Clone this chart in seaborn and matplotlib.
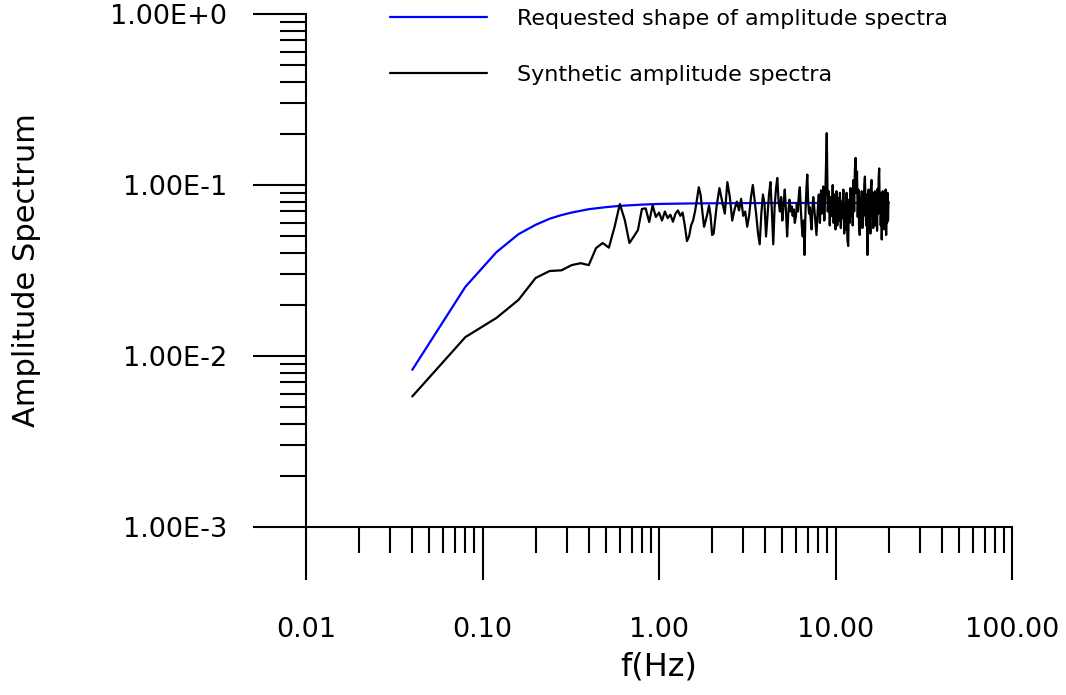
import numpy as np
import pandas as pd
import matplotlib
matplotlib.use("Agg")
import matplotlib.pyplot as plt
import seaborn as sns
from matplotlib.ticker import FixedLocator, FixedFormatter, NullFormatter

# ---------------- data ----------------
req_label = "Requested shape of amplitude spectra"
syn_label = "Synthetic amplitude spectra"

req_freq = [0.04, 0.08, 0.12, 0.16, 0.20, 0.24, 0.28, 0.32, 0.40, 0.50,
            0.60, 0.80, 1.00, 1.50, 2.00, 5.00, 10.0, 20.0]
req_amp = [0.0083, 0.0254, 0.0405, 0.0516, 0.0585, 0.0635, 0.0667, 0.0690,
           0.0722, 0.0742, 0.0755, 0.0768, 0.0775, 0.0780, 0.0782, 0.0785,
           0.0785, 0.0785]

syn_freq = [
    0.04, 0.08, 0.12, 0.16, 0.20, 0.24, 0.28, 0.32, 0.36, 0.40,
    0.44, 0.48, 0.52, 0.56, 0.60, 0.64, 0.68, 0.72, 0.76, 0.80,
    0.84, 0.88, 0.92, 0.96, 1.00,
    1.04, 1.08, 1.12, 1.16, 1.20, 1.24, 1.28, 1.32, 1.36, 1.40,
    1.44, 1.48, 1.52, 1.56, 1.60, 1.64, 1.68, 1.72, 1.76, 1.80,
    1.84, 1.88, 1.92, 1.96, 2.00,
    2.04, 2.12, 2.20, 2.28, 2.36, 2.44, 2.52, 2.60, 2.68, 2.76,
    2.84, 2.92, 3.00, 3.08, 3.16, 3.24, 3.32, 3.40, 3.48, 3.56,
    3.64, 3.72, 3.80, 3.88, 3.96, 4.04, 4.12, 4.20, 4.28, 4.36,
    4.44, 4.52, 4.60, 4.68, 4.76,
    4.84, 4.92, 5.00, 5.08, 5.16, 5.24, 5.32, 5.40, 5.48, 5.56,
    5.64, 5.72, 5.80, 5.88, 5.96, 6.04, 6.12, 6.20, 6.28, 6.36,
    6.44, 6.52, 6.60, 6.68, 6.76, 6.84, 6.92, 7.00, 7.08, 7.16,
    7.24, 7.32, 7.40, 7.48, 7.56,
    7.68, 7.80, 7.92, 8.04, 8.16, 8.28, 8.40, 8.52, 8.64, 8.76,
    8.92, 9.04, 9.16, 9.28, 9.40, 9.52, 9.64, 9.76, 9.88, 10.00,
    10.12, 10.24, 10.36, 10.48, 10.60, 10.72, 10.84, 10.96, 11.08, 11.20,
    11.32, 11.44, 11.56, 11.68, 11.80, 11.92, 12.04, 12.16, 12.28, 12.40,
    12.52, 12.64, 12.76, 12.88, 13.00, 13.12, 13.24, 13.36, 13.48, 13.60,
    13.72, 13.84, 13.96, 14.08, 14.20, 14.32, 14.44, 14.56, 14.68, 14.80,
    14.92, 15.04, 15.16, 15.28, 15.40, 15.52, 15.64, 15.76, 15.88, 16.00,
    16.12, 16.24, 16.36, 16.48, 16.60, 16.72, 16.84, 16.96, 17.08, 17.20,
    17.32, 17.44, 17.56, 17.68, 17.80, 17.92, 18.04, 18.16, 18.28, 18.40,
    18.52, 18.64, 18.76, 18.88, 19.00, 19.12, 19.24, 19.36, 19.48, 19.60,
    19.72, 19.84, 19.96,
]
syn_amp = [
    0.0058, 0.0129, 0.0167, 0.0213, 0.0286, 0.0314, 0.0317, 0.0340, 0.0349, 0.0340,
    0.0428, 0.0458, 0.0430, 0.0568, 0.0774, 0.0624, 0.0458, 0.0500, 0.0546, 0.0724,
    0.0730, 0.0608, 0.0760, 0.0650, 0.0690,
    0.062, 0.070, 0.064, 0.067, 0.061, 0.068, 0.071, 0.066, 0.069, 0.058,
    0.047, 0.050, 0.058, 0.062, 0.070, 0.082, 0.097, 0.088, 0.070, 0.057,
    0.062, 0.068, 0.076, 0.066, 0.051,
    0.052, 0.075, 0.096, 0.080, 0.068, 0.104, 0.085, 0.062, 0.072, 0.080,
    0.071, 0.083, 0.066, 0.070, 0.057, 0.066, 0.085, 0.100, 0.082, 0.066,
    0.052, 0.045, 0.068, 0.088, 0.078, 0.050, 0.066, 0.088, 0.104, 0.070,
    0.045, 0.075, 0.095, 0.110, 0.080,
    0.070, 0.085, 0.062, 0.078, 0.094, 0.070, 0.050, 0.068, 0.082, 0.070,
    0.075, 0.066, 0.072, 0.060, 0.065, 0.078, 0.070, 0.088, 0.097, 0.072,
    0.058, 0.050, 0.062, 0.039, 0.070, 0.095, 0.115, 0.080, 0.068, 0.074,
    0.062, 0.055, 0.072, 0.085, 0.076,
    0.062, 0.051, 0.070, 0.088, 0.060, 0.093, 0.068, 0.098, 0.062, 0.090,
    0.201, 0.070, 0.092, 0.058, 0.085, 0.066, 0.100, 0.060, 0.088, 0.055,
    0.092, 0.058, 0.084, 0.062, 0.090, 0.056, 0.080, 0.064, 0.094, 0.052,
    0.078, 0.055, 0.090, 0.048, 0.044, 0.082, 0.060, 0.096, 0.066, 0.088,
    0.058, 0.107, 0.070, 0.124, 0.144, 0.090, 0.120, 0.065, 0.094, 0.058,
    0.051, 0.085, 0.062, 0.092, 0.056, 0.086, 0.066, 0.100, 0.112, 0.072,
    0.058, 0.088, 0.039, 0.070, 0.094, 0.060, 0.082, 0.052, 0.098, 0.107,
    0.066, 0.090, 0.056, 0.084, 0.062, 0.092, 0.058, 0.060, 0.086, 0.054,
    0.095, 0.068, 0.110, 0.125, 0.075, 0.090, 0.058, 0.084, 0.048, 0.070,
    0.092, 0.060, 0.085, 0.055, 0.088, 0.064, 0.094, 0.051, 0.076, 0.060,
    0.090, 0.062, 0.080,
]

x_ticks = [0.01, 0.1, 1.0, 10.0, 100.0]
x_tick_labels = ["0.01", "0.10", "1.00", "10.00", "100.00"]
y_ticks = [1e-3, 1e-2, 1e-1, 1e0]
y_tick_labels = ["1.00E-3", "1.00E-2", "1.00E-1", "1.00E+0"]

# ---------------- build table ----------------
df = pd.concat([
    pd.DataFrame({"f": req_freq, "amp": req_amp, "series": req_label}),
    pd.DataFrame({"f": syn_freq, "amp": syn_amp, "series": syn_label}),
], ignore_index=True)

sns.set_theme(style="ticks")
plt.rcParams["font.family"] = ["DejaVu Sans"]
plt.rcParams["text.color"] = "black"

fig = plt.figure(figsize=(10.66, 6.95), dpi=100)
ax = fig.add_axes([306 / 1066, 1 - 527 / 695, (1012 - 306) / 1066, (527 - 14) / 695])

palette = {req_label: "#0000ff", syn_label: "#000000"}
sns.lineplot(data=df, x="f", y="amp", hue="series", hue_order=[req_label, syn_label],
             palette=palette, estimator=None, sort=False, linewidth=1.6, ax=ax,
             legend=True)

ax.set_xscale("log")
ax.set_yscale("log")
ax.set_xlim(0.01, 100)
ax.set_ylim(1e-3, 1.0)

# ticks
minor_x = [m * d for d in [0.01, 0.1, 1, 10] for m in range(2, 10)]
minor_y = [m * d for d in [1e-3, 1e-2, 1e-1] for m in range(2, 10)]
ax.xaxis.set_major_locator(FixedLocator(x_ticks))
ax.xaxis.set_major_formatter(FixedFormatter(x_tick_labels))
ax.xaxis.set_minor_locator(FixedLocator(minor_x))
ax.xaxis.set_minor_formatter(NullFormatter())
ax.yaxis.set_major_locator(FixedLocator(y_ticks))
ax.yaxis.set_major_formatter(FixedFormatter(y_tick_labels))
ax.yaxis.set_minor_locator(FixedLocator(minor_y))
ax.yaxis.set_minor_formatter(NullFormatter())

ax.tick_params(axis="both", which="major", length=38, width=1.5, color="black",
               labelsize=19.5, labelcolor="black")
ax.tick_params(axis="both", which="minor", length=19, width=1.5, color="black")
ax.tick_params(axis="x", which="major", pad=27)
ax.tick_params(axis="y", which="major", pad=19)

for side in ["top", "right"]:
    ax.spines[side].set_visible(False)
for side in ["left", "bottom"]:
    ax.spines[side].set_linewidth(1.5)
    ax.spines[side].set_color("black")
ax.set_facecolor("white")

ax.set_xlabel("f(Hz)", fontsize=23, color="black")
ax.set_ylabel("Amplitude Spectrum", fontsize=22, color="black")
ax.xaxis.set_label_coords(0.5, -0.243)
ax.yaxis.set_label_coords(-0.375, 0.5)

# legend
handles, labels = ax.get_legend_handles_labels()
ax.get_legend().remove()
leg = fig.legend(handles, labels, loc="upper left",
                 bbox_to_anchor=(390 / 1066, 1 - 9 / 695), frameon=False,
                 fontsize=16, handlelength=4.37, handletextpad=1.35,
                 labelspacing=1.62, borderaxespad=0, borderpad=0)
for t in leg.get_texts():
    t.set_color("black")

fig.savefig("out.png", dpi=100, facecolor="white")
